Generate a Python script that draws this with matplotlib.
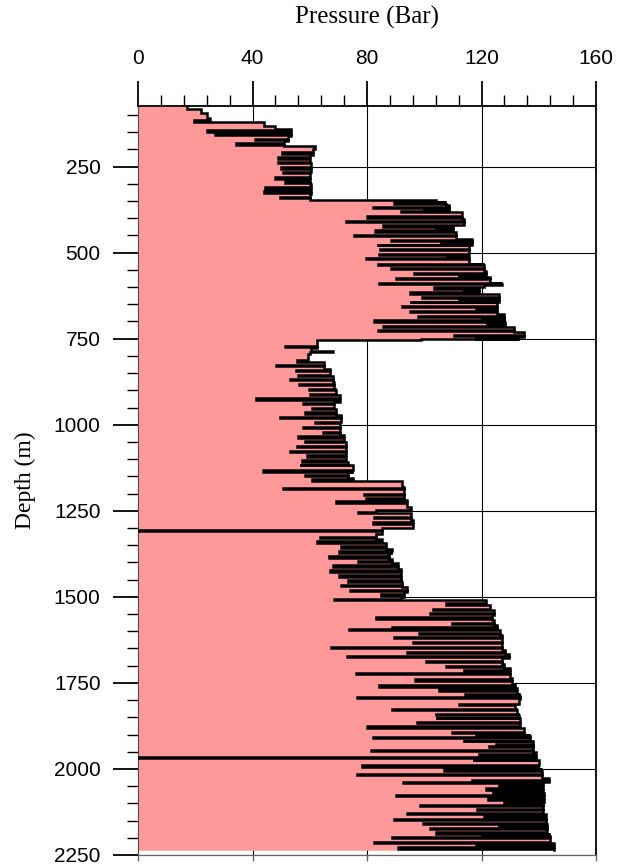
import numpy as np
import matplotlib.pyplot as plt
from matplotlib.ticker import MultipleLocator, NullLocator

# pressure log: smooth envelope (depth m -> pressure bar)
# plus single-sample dips ("spikes") that give the comb look
env_depth_shallow = [75, 82, 95, 110, 121, 132, 140, 160, 175, 189, 200, 215, 240, 270, 300, 330]
env_pres_shallow = [17, 22, 24, 25, 44, 48, 53.6, 52.4, 51, 62, 61, 60, 60.5, 60, 60.5, 60]

env_depth_upper = [348, 354, 363, 383, 402, 421, 441, 460, 479, 499, 518, 533, 552, 571, 588,
                   595, 605, 620, 644, 658, 678, 697, 716, 731, 745]
env_pres_upper = [104, 107.5, 108.6, 113.3, 114, 110, 111, 116.8, 115.6, 115.6, 115.6, 120.8, 121.4,
                  123.1, 127.2, 121, 119, 126, 125.5, 125.5, 127.8, 128.3, 131.3, 134.7, 133]

env_depth_middle = [753, 778, 786, 790, 795, 818, 837, 857, 876, 895, 915, 934, 953, 973, 992,
                    1012, 1031, 1050, 1089, 1108, 1118, 1137, 1156]
env_pres_middle = [62.5, 60.5, 68, 60, 59.4, 65.1, 66.9, 68, 68.6, 69.2, 70.4, 68.6, 69.2, 71, 70.4,
                   70.4, 72.1, 72.7, 72.7, 73.3, 75, 73.3, 75]

env_depth_lower = [1164, 1181, 1200, 1220, 1239, 1249, 1256, 1278, 1299, 1316, 1331, 1345, 1360,
                   1374, 1389, 1403, 1418, 1432, 1452, 1471, 1486, 1500]
env_pres_lower = [92.4, 93, 93, 94.1, 95.3, 83.1, 95.3, 95.9, 85.4, 83.1, 85.4, 86.6, 88.9,
                  87.8, 88.9, 90.7, 91.8, 91.8, 92.4, 94.1, 93, 91.8]

env_depth_deep = [1508, 1525, 1539, 1553, 1568, 1582, 1597, 1611, 1640, 1655, 1667, 1679, 1694,
                  1708, 1737, 1752, 1766, 1781, 1796, 1810, 1825, 1839, 1852, 1880, 1900, 1920,
                  1950, 1975, 2000, 2025, 2040, 2070, 2100, 2130, 2160, 2190, 2215]
env_pres_deep = [121.4, 123.1, 124.3, 123.7, 124.3, 125.5, 126.6, 127.2, 127.2, 128.3, 129.5, 127.2,
                 127.8, 130.1, 130.7, 131.8, 132.4, 133.6, 133, 131.8, 132.4, 133, 133.6, 135, 137,
                 138, 139, 140, 141, 143.5, 141.5, 142, 141.5, 142.5, 143, 144, 145.5]
log_bottom = 2236

spike_depth_shallow = [116, 145, 155, 170, 182, 208, 223, 237, 252, 266, 281, 293, 310, 322, 337]
spike_pres_shallow = [19.4, 24, 27, 40.8, 34.4, 50.4, 48.9, 48.9, 50.1, 50.7, 47.8, 51.2, 44.3, 44.0, 49.5]

spike_depth_upper = [354, 366, 372, 380, 394, 407, 421, 428, 435, 449, 462, 468, 477, 489, 503,
                     508, 516, 533, 545, 548, 559, 566, 573, 588, 601, 608, 615, 628, 636, 642,
                     655, 662, 669, 683, 690, 697, 705, 712, 724, 739, 746, 752]
spike_pres_upper = [89.5, 82, 100, 91.8, 80, 72.5, 85.7, 104, 82.8, 75.4, 88.4, 106, 83.4, 84.5, 84.3,
                    108, 79.7, 84, 88.4, 110, 96.5, 112, 90.1, 84.3, 103.4, 114, 95.1, 99.1, 112, 95,
                    92.2, 118, 95, 97.9, 120, 82.3, 122, 85.5, 83.7, 110.4, 118, 98.8]

spike_depth_middle = [771, 813, 826, 840, 855, 867, 882, 895, 910, 923, 937, 950, 964, 977, 992,
                      1006, 1020, 1034, 1048, 1062, 1075, 1089, 1103, 1116, 1132, 1145, 1159]
spike_pres_middle = [51.2, 55.5, 48.3, 55.1, 55.9, 53, 56.2, 59.6, 60, 41.2, 57.6, 60.9, 58.2, 49.7, 62,
                     57.6, 64.6, 55.9, 58.5, 55.5, 53, 59, 57.4, 56.7, 43.5, 58.2, 60.9]

spike_depth_lower = [1183, 1200, 1212, 1223, 1253, 1268, 1283, 1305, 1326, 1339, 1353, 1368, 1382,
                     1396, 1408, 1423, 1437, 1452, 1465, 1479, 1493, 1505]
spike_pres_lower = [50.7, 79.1, 79.6, 69, 76.7, 82.5, 82.2, 0, 63.6, 62.5, 71, 70.1, 66.7,
                    76.7, 68, 66.9, 70.1, 73.3, 71, 74.1, 84.9, 68.6]

spike_depth_deep = [1519, 1534, 1547, 1560, 1575, 1587, 1594, 1604, 1616, 1631, 1645, 1659, 1672,
                    1686, 1700, 1713, 1720, 1740, 1757, 1769, 1783, 1790, 1810, 1826, 1839, 1851,
                    1863, 1876, 1892, 1900, 1907, 1919, 1927, 1933, 1945, 1958, 1965, 1974, 1989,
                    1995, 2001, 2015, 2032, 2037, 2045, 2056, 2065, 2076, 2085, 2095, 2105, 2115,
                    2129, 2138, 2145, 2158, 2165, 2171, 2184, 2190, 2197, 2211, 2220, 2228]
spike_pres_deep = [107.5, 103.2, 102, 83.1, 109.8, 88.9, 73.6, 98.2, 89.5, 95.9, 67.5, 94.1, 72.9,
                   100.5, 107.7, 113.9, 76.2, 96.8, 84.1, 105.2, 114.4, 76.4, 112.1, 88.9, 104, 104,
                   97.6, 80, 109.6, 118, 82, 113.6, 125, 122.6, 81.4, 119, 0, 117, 78.1,
                   125, 106.9, 76.4, 116.8, 92.6, 126, 121.4, 124, 90.1, 122.3, 128, 98.4, 118.5,
                   93.8, 121, 89.3, 99.6, 126, 101.9, 104, 120, 88.9, 82.6, 118, 90.7]

env_d = np.concatenate([env_depth_shallow, env_depth_upper, env_depth_middle,
                        env_depth_lower, env_depth_deep]).astype(float)
env_p = np.concatenate([env_pres_shallow, env_pres_upper, env_pres_middle,
                        env_pres_lower, env_pres_deep]).astype(float)
sp_d = np.concatenate([spike_depth_shallow, spike_depth_upper, spike_depth_middle,
                       spike_depth_lower, spike_depth_deep]).astype(float)
sp_p = np.concatenate([spike_pres_shallow, spike_pres_upper, spike_pres_middle,
                       spike_pres_lower, spike_pres_deep]).astype(float)

# each spike lasts one thin sample, then the log returns to the envelope value
spike_w = 4.0
back = env_p[np.searchsorted(env_d, sp_d + spike_w, side="right") - 1]
d = np.concatenate([env_d, sp_d, sp_d + spike_w])
p = np.concatenate([env_p, sp_p, back])
order = np.argsort(d, kind="stable")
d, p = d[order], p[order]

# step outline: pressure held constant down to the next sample
ys = np.repeat(np.append(d, log_bottom), 2)[1:-1]
xs = np.repeat(p, 2)

fig = plt.figure(figsize=(6.23, 8.64), dpi=100)
ax = fig.add_axes([138 / 623, 1 - 855 / 864, 458 / 623, 749 / 864])

ax.fill_betweenx(ys, 0, xs, color="#ff9999", lw=0, zorder=1)
ax.plot(xs, ys, color="black", lw=1.8, zorder=3, solid_joinstyle="miter")

ax.set_xlim(0, 160)
ax.set_ylim(2250, 74)
ax.set_axisbelow(True)
ax.grid(True, which="major", color="black", lw=0.8)

ax.xaxis.set_major_locator(MultipleLocator(40))
ax.xaxis.set_minor_locator(MultipleLocator(8))
ax.yaxis.set_major_locator(MultipleLocator(250))
ax.yaxis.set_minor_locator(MultipleLocator(50))
ax.xaxis.tick_top()
ax.xaxis.set_label_position("top")
ax.tick_params(which="major", length=18, width=1.3, direction="out", pad=9,
               labelsize=15, labelfontfamily="Liberation Sans")
ax.tick_params(which="minor", length=8, width=1.0, direction="out")

bottom = ax.secondary_xaxis("bottom")
bottom.set_xticks([0, 40, 80, 120, 160])
bottom.xaxis.set_minor_locator(NullLocator())
bottom.tick_params(length=4, width=1.0, labelbottom=False, color="0.4")
bottom.spines["bottom"].set_color("0.4")

for side in ["top", "right"]:
    ax.spines[side].set_linewidth(1.3)
ax.spines["left"].set_color("0.3")
ax.spines["bottom"].set_color("0.4")

ax.set_xlabel("Pressure (Bar)", fontfamily="Liberation Serif", fontsize=18, labelpad=19)
ax.set_ylabel("Depth (m)", fontfamily="Liberation Serif", fontsize=17, labelpad=13)

fig.savefig("out.png", dpi=100)
